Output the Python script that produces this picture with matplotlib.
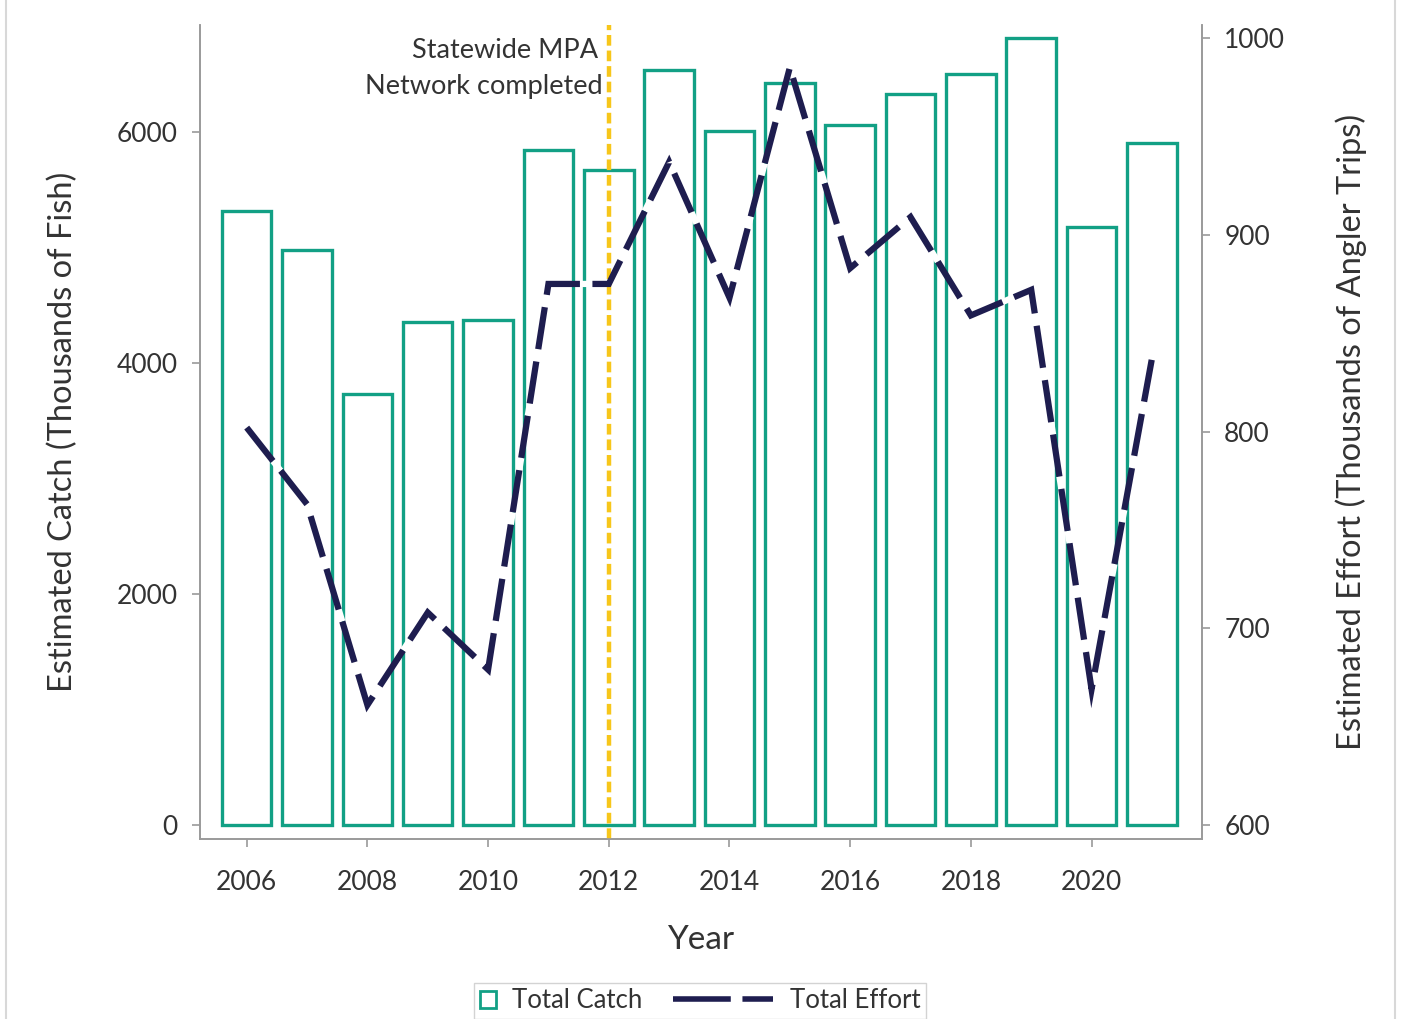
import matplotlib
matplotlib.use("Agg")
import matplotlib.pyplot as plt
from matplotlib.lines import Line2D
from matplotlib.patches import Patch
from matplotlib.legend_handler import HandlerLine2D

plt.rcParams['font.family'] = ['Lato', 'DejaVu Sans']

years = [2006, 2007, 2008, 2009, 2010, 2011, 2012, 2013, 2014, 2015, 2016, 2017, 2018, 2019, 2020, 2021]
total_catch = [5316, 4978, 3732, 4355, 4372, 5844, 5671, 6537, 6009, 6424, 6061, 6329, 6502, 6814, 5177, 5905]
total_effort = [802, 763, 661, 708, 679, 875, 875, 937, 868, 985, 883, 909, 859, 872, 669, 837]
x_ticks = [2006, 2008, 2010, 2012, 2014, 2016, 2018, 2020]
left_ticks = [0, 2000, 4000, 6000]
right_ticks = [600, 700, 800, 900, 1000]
mpa_year = 2012

TEAL = '#12a085'
NAVY = '#1e1d4f'
YELLOW = '#f7c61a'
TXT = '#333333'
SPINE = '#9a9a9a'

fig = plt.figure(figsize=(14.03, 10.19), dpi=100)
ax = fig.add_axes([200/1403, 1-839/1019, (1202-200)/1403, (839-25)/1019])
ax2 = ax.twinx()

ax.bar(years, total_catch, width=0.82, facecolor='white', edgecolor=TEAL, linewidth=2.4, zorder=2)
ax.set_xlim(2005.226, 2021.83)
ax.set_ylim(-121, 6926)

ax2.plot(years, total_effort, color=NAVY, linewidth=4.5, dashes=(6.8, 2.0),
         gapcolor='white', solid_joinstyle='miter', dash_joinstyle='miter', zorder=3)
ax2.set_ylim(592.9, 1006.6)

ax.axvline(mpa_year, color=YELLOW, linewidth=3.2, dashes=(2.4, 1.1), zorder=4)

ax.text(2011.83, 0.969, 'Statewide MPA', transform=ax.get_xaxis_transform(),
        ha='right', va='center', fontsize=19.5, color=TXT)
ax.text(2011.90, 0.924, 'Network completed', transform=ax.get_xaxis_transform(),
        ha='right', va='center', fontsize=19.5, color=TXT)

for a in (ax, ax2):
    a.spines['top'].set_visible(False)
    for s in ('left', 'right', 'bottom'):
        a.spines[s].set_color(SPINE)
        a.spines[s].set_linewidth(1.2)
    a.tick_params(colors=SPINE, labelcolor=TXT, labelsize=19, length=6, width=1.2)

ax.set_xticks(x_ticks)
ax.set_xticklabels([str(v) for v in x_ticks])
ax.set_yticks(left_ticks)
ax2.set_yticks(right_ticks)
ax.tick_params(axis='x', pad=16)
ax.tick_params(axis='y', pad=10)
ax2.tick_params(axis='y', pad=10)

ax.set_xlabel('Year', fontsize=24, color=TXT, labelpad=22)
ax.set_ylabel('Estimated Catch (Thousands of Fish)', fontsize=23.5, color=TXT, labelpad=28)
ax2.set_ylabel('Estimated Effort (Thousands of Angler Trips)', fontsize=23.5, color=TXT, labelpad=36)


class LongLineHandler(HandlerLine2D):
    def create_artists(self, legend, orig_handle, xdescent, ydescent, width, height, fontsize, trans):
        y = height / 2 - ydescent
        x1 = width - xdescent
        x0 = x1 - 72.0
        line = Line2D([x0, x1], [y, y], color=orig_handle.get_color(),
                      linewidth=orig_handle.get_linewidth(), dashes=(10.4, 2.1),
                      solid_capstyle='butt', dash_capstyle='butt')
        line.set_transform(trans)
        return [line]


LFS = 18.5
catch_handle = Patch(facecolor='white', edgecolor=TEAL, linewidth=2.0)
effort_handle = Line2D([0], [0], color=NAVY, linewidth=4.0)
leg = fig.legend([catch_handle, effort_handle], ['Total Catch', 'Total Effort'], loc='center',
                 bbox_to_anchor=(700/1403, 1-1001/1019), ncol=2, fontsize=LFS,
                 frameon=True, fancybox=False, edgecolor='#c8c8c8',
                 handlelength=0.62, handleheight=0.62, columnspacing=4.44,
                 borderpad=0.2, borderaxespad=0.0, handletextpad=0.66, labelcolor=TXT,
                 handler_map={effort_handle: LongLineHandler()})
leg.get_frame().set_linewidth(1.0)

fig.add_artist(Line2D([6/1403, 6/1403], [0, 1], color='#d8d8d8', linewidth=1.5))
fig.add_artist(Line2D([1395/1403, 1395/1403], [0, 1], color='#d8d8d8', linewidth=1.5))

fig.savefig('out.png', dpi=100, facecolor='white')
